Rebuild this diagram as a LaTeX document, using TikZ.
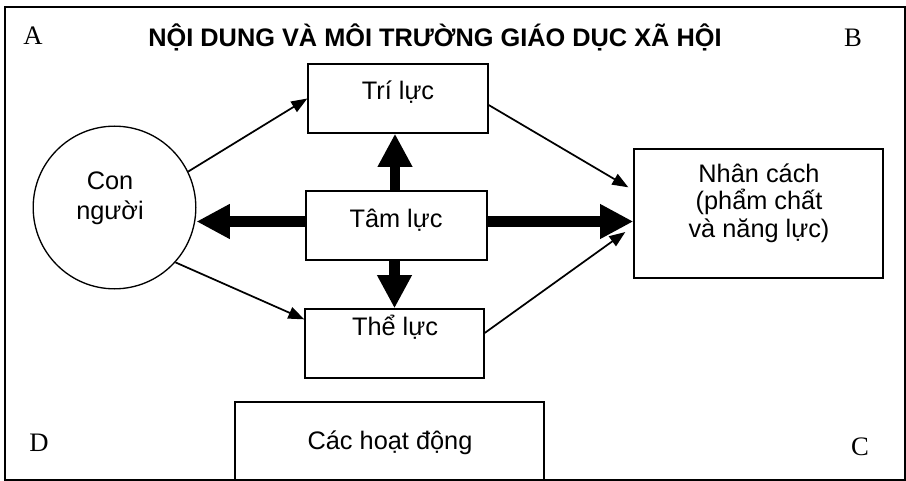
\documentclass[tikz,border=0pt]{standalone}
\usepackage{fontspec}
\setmainfont{Liberation Sans}
\newfontfamily\cornerfont{Liberation Serif}
\usetikzlibrary{arrows.meta,calc}
\begin{document}
\begin{tikzpicture}[x=0.75pt,y=-0.75pt,
  framebox/.style={draw, line width=0.9pt},
  block/.style={draw, line width=1pt, inner sep=0pt, minimum height=51.75pt},
  lbl/.style={inner sep=0pt, font=\fontsize{19}{20.6}\selectfont},
  corner/.style={inner sep=0pt, font=\cornerfont\fontsize{20}{22}\selectfont},
  thinarrow/.style={draw, line width=1.3pt, -{Triangle[length=12pt,width=9pt]}},
  thickarrow/.style={draw, line width=7.8pt, -{Triangle[length=25pt,width=24.5pt]}}]

% page area and outer frame
\useasboundingbox (0,0) rectangle (906,481);
\draw[framebox] (5,7) rectangle (905,480);

% corner letters and title
\node[corner] (cA) at (33,36) {A};
\node[corner] (cB) at (853,38) {B};
\node[corner] (cC) at (860,447) {C};
\node[corner] (cD) at (39,443) {D};
\node[inner sep=0pt, font=\bfseries\fontsize{19}{21}\selectfont] (title) at (435,37)
  {NỘI DUNG VÀ MÔI TRƯỜNG GIÁO DỤC XÃ HỘI};

% the person
\node[draw, circle, line width=1pt, minimum size=122pt, inner sep=0pt] (con) at (114.5,207.5) {};
\node[lbl, align=center, font=\fontsize{19}{22.5}\selectfont] (context) at (110,198) {Con\\người};

% the three forces
\node[block, minimum width=135pt] (tri) at (398,98.5) {};
\node[lbl] (tritext) at (398,92) {Trí lực};
\node[block, minimum width=135.75pt] (tam) at (396.5,225.5) {};
\node[lbl] (tamtext) at (396,220) {Tâm lực};
\node[block, minimum width=134.25pt] (the) at (394.5,343.5) {};
\node[lbl] (thetext) at (395,327) {Thể lực};

% personality
\node[draw, line width=1pt, minimum width=186.75pt, minimum height=96.75pt, inner sep=0pt] (nhan) at (758.5,213.5) {};
\node[lbl, align=center] (nhantext) at (759,203) {Nhân cách\\(phẩm chất\\và năng lực)};

% activities, resting on the bottom edge of the frame
\node[draw, line width=1pt, minimum width=231.75pt, minimum height=58.5pt, inner sep=0pt] (hd) at (389.5,441) {};
\node[lbl] (hdtext) at (390,443) {Các hoạt động};

% thin connectors
\draw[thinarrow] (con.26) -- (tri.west);
\draw[thinarrow] (con.-42) -- ($(the.north west)+(0,11)$);
\draw[thinarrow] ($(tri.east)+(0,6.5)$) -- ($(nhan.north west)+(-5,39)$);
\draw[thinarrow] ($(the.east)+(0,-10.5)$) -- ($(nhan.west)+(-8,18.5)$);

% thick connectors out of Tâm lực
\coordinate (tamup) at ($(tam.north)+(-1.5,0)$);
\coordinate (tamdown) at ($(tam.south)+(-2,0)$);
\coordinate (tamleft) at ($(tam.west)+(0,-4)$);
\coordinate (tamright) at ($(tam.east)+(0,-4)$);
\draw[thickarrow] (tamup) -- (tamup |- tri.south);
\draw[thickarrow] (tamdown) -- (tamdown |- the.north);
\draw[thickarrow] (tamleft) -- (tamleft -| con.east);
\draw[thickarrow] (tamright) -- (tamright -| nhan.west);
\end{tikzpicture}
\end{document}
